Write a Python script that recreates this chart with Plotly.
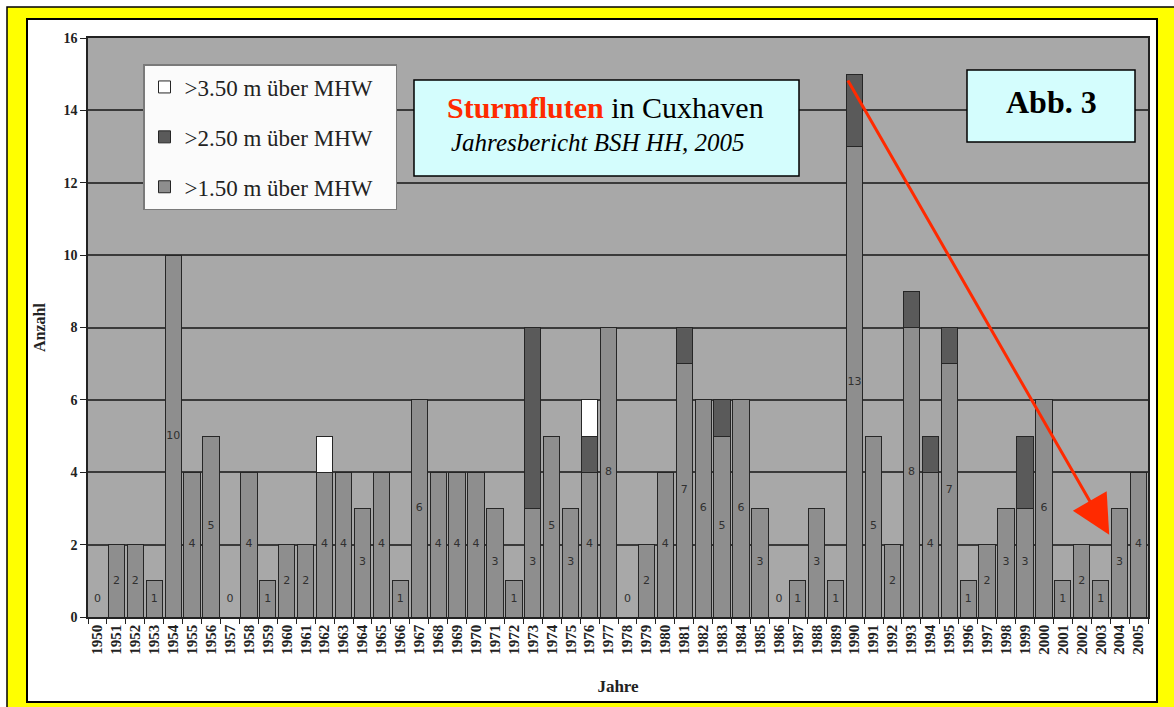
import plotly.graph_objects as go

years = ["1950","1951","1952","1953","1954","1955","1956","1957","1958","1959",
         "1960","1961","1962","1963","1964","1965","1966","1967","1968","1969",
         "1970","1971","1972","1973","1974","1975","1976","1977","1978","1979",
         "1980","1981","1982","1983","1984","1985","1986","1987","1988","1989",
         "1990","1991","1992","1993","1994","1995","1996","1997","1998","1999",
         "2000","2001","2002","2003","2004","2005"]
over_150 = [0,2,2,1,10,4,5,0,4,1,
            2,2,4,4,3,4,1,6,4,4,
            4,3,1,3,5,3,4,8,0,2,
            4,7,6,5,6,3,0,1,3,1,
            13,5,2,8,4,7,1,2,3,3,
            6,1,2,1,3,4]
over_250 = [0,0,0,0,0,0,0,0,0,0,
            0,0,0,0,0,0,0,0,0,0,
            0,0,0,5,0,0,1,0,0,0,
            0,1,0,1,0,0,0,0,0,0,
            2,0,0,1,1,1,0,0,0,2,
            0,0,0,0,0,0]
over_350 = [0,0,0,0,0,0,0,0,0,0,
            0,0,1,0,0,0,0,0,0,0,
            0,0,0,0,0,0,1,0,0,0,
            0,0,0,0,0,0,0,0,0,0,
            0,0,0,0,0,0,0,0,0,0,
            0,0,0,0,0,0]
yticks = [0, 2, 4, 6, 8, 10, 12, 14, 16]
series_names = [">1.50 m über MHW", ">2.50 m über MHW", ">3.50 m über MHW"]

W, H = 1174, 707
L, R, T, B = 88, 1148, 38, 617


def px(x):
    return (x - L) / (R - L)


def py(y):
    return (B - y) / (B - T)


SERIF = "Liberation Serif"
fig = go.Figure()
colors = ["#8e8e8e", "#5a5a5a", "#ffffff"]
ranks = [3, 2, 1]
for i, (name, vals) in enumerate(zip(series_names, [over_150, over_250, over_350])):
    fig.add_trace(go.Bar(
        x=years, y=vals, name=name + "\u00a0\u00a0\u00a0", marker_color=colors[i],
        marker_line_color="#262626", marker_line_width=1,
        legendgroup=f"g{i}", legendrank=ranks[i], hoverinfo="x+y"))

label_y = [max(v / 2, 0.5) for v in over_150]
fig.add_trace(go.Scatter(
    x=years, y=label_y, mode="text", text=[str(v) for v in over_150],
    textfont=dict(family="DejaVu Sans", size=11, color="#303030"),
    showlegend=False, hoverinfo="skip"))

shapes = [
    dict(type="rect", xref="paper", yref="paper", x0=px(7), x1=px(1180), y0=py(716), y1=py(7),
         fillcolor="#ffff00", line=dict(color="#000000", width=1.5), layer="below"),
    dict(type="rect", xref="paper", yref="paper", x0=px(27), x1=px(1157), y0=py(702), y1=py(19),
         fillcolor="#ffffff", line=dict(color="#000000", width=2), layer="below"),
    dict(type="rect", xref="paper", yref="paper", x0=0, x1=1, y0=0, y1=1,
         fillcolor="#a8a8a8", line=dict(width=0), layer="below"),
    dict(type="rect", xref="paper", yref="paper", x0=px(414), x1=px(799), y0=py(176), y1=py(80),
         fillcolor="#d4fdfd", line=dict(color="#000000", width=1.5), layer="above"),
    dict(type="rect", xref="paper", yref="paper", x0=px(967), x1=px(1135), y0=py(142), y1=py(70),
         fillcolor="#d4fdfd", line=dict(color="#000000", width=1.5), layer="above"),
]

annotations = [
    dict(xref="paper", yref="paper", x=px(605), y=py(108), showarrow=False,
         text="<b><span style='color:#ff2a00'>Sturmfluten</span></b> in Cuxhaven",
         font=dict(family=SERIF, size=30, color="#000000"), xanchor="center", yanchor="middle"),
    dict(xref="paper", yref="paper", x=px(597), y=py(142), showarrow=False,
         text="<i>Jahresbericht BSH HH, 2005</i>",
         font=dict(family=SERIF, size=25, color="#000000"), xanchor="center", yanchor="middle"),
    dict(xref="paper", yref="paper", x=px(1051), y=py(102), showarrow=False,
         text="<b>Abb. 3</b>",
         font=dict(family=SERIF, size=32, color="#000000"), xanchor="center", yanchor="middle"),
    dict(x=53.45, y=2.27, ax=39.6, ay=14.87, xref="x", yref="y", axref="x", ayref="y",
         showarrow=True, arrowhead=2, arrowsize=2.6, arrowwidth=3, arrowcolor="#ff2a00", text=""),
]

fig.update_layout(
    width=W, height=H,
    margin=dict(l=L, r=W - R, t=T, b=H - B, autoexpand=False),
    paper_bgcolor="#ffffff", plot_bgcolor="#a8a8a8",
    barmode="stack", bargap=0.14,
    showlegend=True,
    legend=dict(x=px(143), y=py(64), xanchor="left", yanchor="top",
                bgcolor="#fbfbfb", bordercolor="#7a7a7a", borderwidth=1.5,
                traceorder="grouped", tracegroupgap=17,
                font=dict(family=SERIF, size=23, color="#222222"),
                itemwidth=30),
    shapes=shapes, annotations=annotations,
    font=dict(family=SERIF, color="#222222"),
)
fig.update_xaxes(type="category", range=[-0.5, len(years) - 0.5], tickangle=-90,
                 tickfont=dict(family=SERIF, size=15, color="#222222", weight="bold"),
                 ticks="outside", ticklen=5, tickcolor="#222222", tickson="boundaries",
                 showline=True, linecolor="#222222", linewidth=1.5, mirror=True,
                 title=dict(text="<b>Jahre</b>", font=dict(family=SERIF, size=17, color="#222222"),
                            standoff=26))
fig.update_yaxes(range=[0, 16], tickvals=yticks,
                 tickfont=dict(family=SERIF, size=14, color="#222222", weight="bold"),
                 ticks="outside", ticklen=6, tickcolor="#222222",
                 showgrid=True, gridcolor="#3a3a3a", gridwidth=1.5,
                 showline=True, linecolor="#222222", linewidth=1.5, mirror=True,
                 zeroline=False,
                 title=dict(text="<b>Anzahl</b>", font=dict(family=SERIF, size=16, color="#222222"),
                            standoff=14))

fig.write_html("out.html", config={"displayModeBar": False},
               post_script="document.body.style.margin='0';")
